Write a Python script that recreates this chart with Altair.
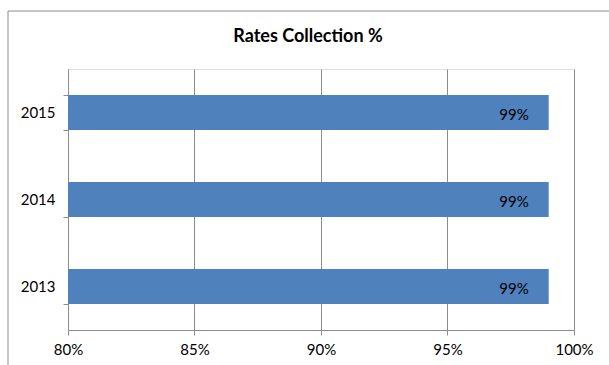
import altair as alt
import pandas as pd

# Rates collection by year
years = ["2015", "2014", "2013"]
rates = [0.99, 0.99, 0.99]
x_ticks = [0.80, 0.85, 0.90, 0.95, 1.00]
title_text = ["Rates Collection %"]

df = pd.DataFrame({"year": years, "rate": rates})
title_df = pd.DataFrame({"title": title_text})

FONT = "Lato"
GRID = "#8c8c8c"
BAR = "#4F81BD"

y_enc = alt.Y(
    "year:N",
    sort=years,
    scale=alt.Scale(paddingInner=0.6, paddingOuter=0.3),
    axis=alt.Axis(
        title=None,
        tickBand="extent",
        tickSize=5,
        tickColor=GRID,
        domainColor=GRID,
        labelPadding=8,
        labelFontSize=15,
        labelFont=FONT,
        labelColor="#000000",
        grid=False,
    ),
)

x_enc = alt.X(
    "rate:Q",
    scale=alt.Scale(domain=[0.8, 1.0], zero=False, nice=False),
    axis=alt.Axis(
        title=None,
        values=x_ticks,
        format=".0%",
        tickSize=5,
        tickColor=GRID,
        domainColor=GRID,
        gridColor=GRID,
        gridWidth=1,
        labelPadding=7,
        labelFontSize=15,
        labelFont=FONT,
        labelColor="#000000",
        labelFlush=False,
    ),
)

bars = alt.Chart(df).mark_bar(color=BAR).encode(
    y=y_enc,
    x=x_enc,
    x2=alt.datum(0.8),
)

labels = alt.Chart(df).mark_text(
    align="right", baseline="middle", dx=-20, dy=2, fontSize=15, font=FONT, color="#000000"
).encode(
    y=alt.Y("year:N", sort=years),
    x=alt.X("rate:Q"),
    text=alt.Text("rate:Q", format=".0%"),
)

# Chart heading drawn as a text mark above the plot area
heading = alt.Chart(title_df).mark_text(
    align="center", baseline="middle", fontSize=18, fontWeight="bold", font=FONT,
    color="#000000", clip=False,
).encode(
    x=alt.value(240),
    y=alt.value(-32),
    text="title:N",
)

# Outer frame around the whole chart
frame = alt.Chart(title_df).mark_rect(
    fill=None, stroke=GRID, strokeWidth=1, clip=False
).encode(
    x=alt.value(-60),
    x2=alt.value(560),
    y=alt.value(-58),
    y2=alt.value(320),
)

chart = (
    alt.layer(frame, bars, labels, heading)
    .properties(
        width=506,
        height=261,
        padding={"left": 68, "top": 69, "right": 35, "bottom": 35},
        autosize=alt.AutoSizeParams(type="none"),
    )
    .configure_view(stroke=None)
    .configure(background="#ffffff")
)

chart.save("out.html", embed_options={"renderer": "svg", "actions": False})
